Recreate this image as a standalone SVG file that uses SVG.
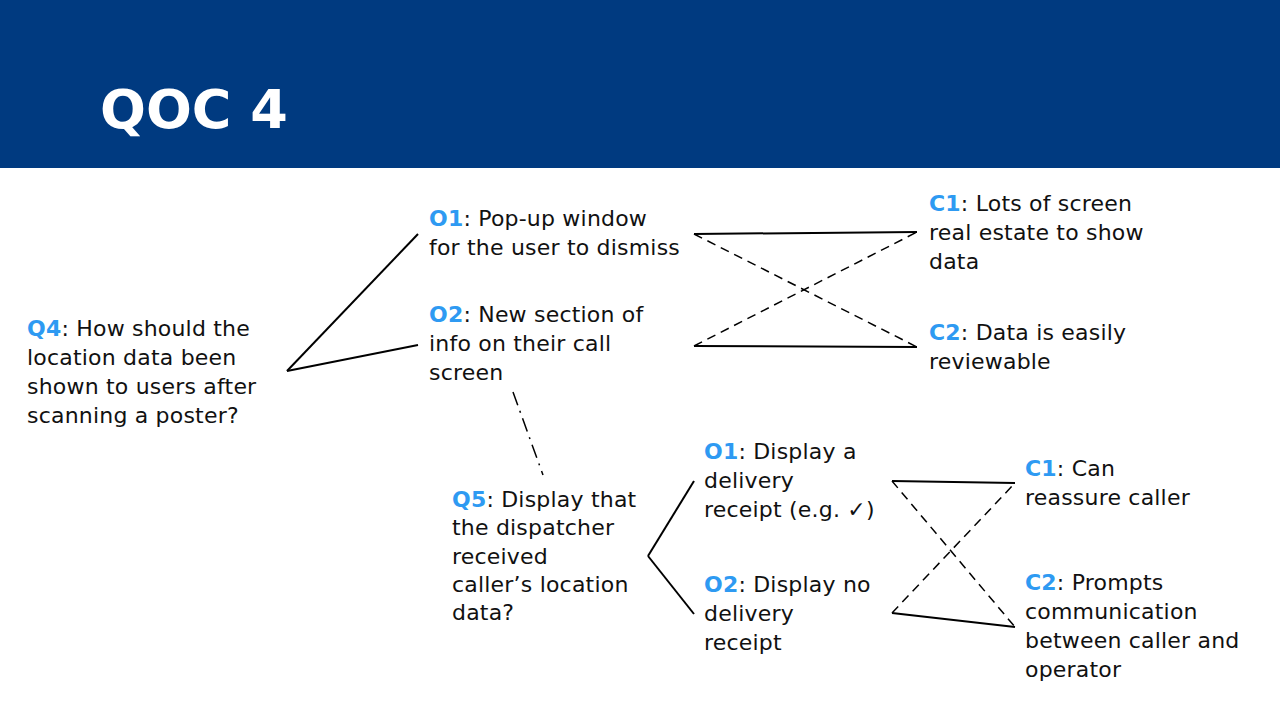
<svg xmlns="http://www.w3.org/2000/svg" width="1280" height="720" viewBox="0 0 1280 720">
<style>
.t{font-family:"DejaVu Sans","Liberation Sans",sans-serif;font-size:22px;letter-spacing:0.2px;fill:#111}
.k{fill:#2E9AF2;font-weight:bold}
.ln{stroke:#000;stroke-width:2;fill:none}
.ds{stroke:#000;stroke-width:1.5;fill:none;stroke-dasharray:9 6}
.dd{stroke:#000;stroke-width:1.5;fill:none;stroke-dasharray:14 6 2 6}
</style>
<rect x="0" y="0" width="1280" height="168" fill="#003A80"/>
<text x="100" y="128" font-family="DejaVu Sans,sans-serif" font-weight="bold" font-size="54" fill="#fff">QOC 4</text>
<g id="connectors">
<line class="ln" x1="287" y1="371" x2="418" y2="234"/>
<line class="ln" x1="287" y1="371" x2="418" y2="345"/>
<line class="ln" x1="694" y1="234" x2="917" y2="232"/>
<line class="ln" x1="694" y1="346" x2="917" y2="347"/>
<line class="ds" x1="694" y1="234" x2="917" y2="347"/>
<line class="ds" x1="694" y1="346" x2="917" y2="232"/>
<line class="dd" x1="513" y1="392" x2="543" y2="475"/>
<line class="ln" x1="648" y1="556" x2="694" y2="481"/>
<line class="ln" x1="648" y1="556" x2="694" y2="614"/>
<line class="ln" x1="892" y1="481" x2="1015" y2="483"/>
<line class="ln" x1="892" y1="613" x2="1015" y2="627"/>
<line class="ds" x1="892" y1="481" x2="1015" y2="627"/>
<line class="ds" x1="892" y1="613" x2="1015" y2="483"/>
</g>
<g id="q4"><text class="t"><tspan x="27" y="336"><tspan class="k">Q4</tspan>: How should the</tspan><tspan x="27" y="365">location data been</tspan><tspan x="27" y="394">shown to users after</tspan><tspan x="27" y="423">scanning a poster?</tspan></text></g>
<g id="o1a"><text class="t"><tspan x="429" y="226"><tspan class="k">O1</tspan>: Pop-up window</tspan><tspan x="429" y="255">for the user to dismiss</tspan></text></g>
<g id="o2a"><text class="t"><tspan x="429" y="322"><tspan class="k">O2</tspan>: New section of</tspan><tspan x="429" y="351">info on their call</tspan><tspan x="429" y="380">screen</tspan></text></g>
<g id="c1a"><text class="t"><tspan x="929" y="211"><tspan class="k">C1</tspan>: Lots of screen</tspan><tspan x="929" y="240">real estate to show</tspan><tspan x="929" y="269">data</tspan></text></g>
<g id="c2a"><text class="t"><tspan x="929" y="340"><tspan class="k">C2</tspan>: Data is easily</tspan><tspan x="929" y="369">reviewable</tspan></text></g>
<g id="q5"><text class="t"><tspan x="452" y="507"><tspan class="k">Q5</tspan>: Display that</tspan><tspan x="452" y="535">the dispatcher</tspan><tspan x="452" y="564">received</tspan><tspan x="452" y="592">caller’s location</tspan><tspan x="452" y="620">data?</tspan></text></g>
<g id="o1b"><text class="t"><tspan x="704" y="459"><tspan class="k">O1</tspan>: Display a</tspan><tspan x="704" y="488">delivery</tspan><tspan x="704" y="517">receipt (e.g. ✓)</tspan></text></g>
<g id="o2b"><text class="t"><tspan x="704" y="592"><tspan class="k">O2</tspan>: Display no</tspan><tspan x="704" y="621">delivery</tspan><tspan x="704" y="650">receipt</tspan></text></g>
<g id="c1b"><text class="t"><tspan x="1025" y="476"><tspan class="k">C1</tspan>: Can</tspan><tspan x="1025" y="505">reassure caller</tspan></text></g>
<g id="c2b"><text class="t"><tspan x="1025" y="590"><tspan class="k">C2</tspan>: Prompts</tspan><tspan x="1025" y="619">communication</tspan><tspan x="1025" y="648">between caller and</tspan><tspan x="1025" y="677">operator</tspan></text></g>
</svg>
